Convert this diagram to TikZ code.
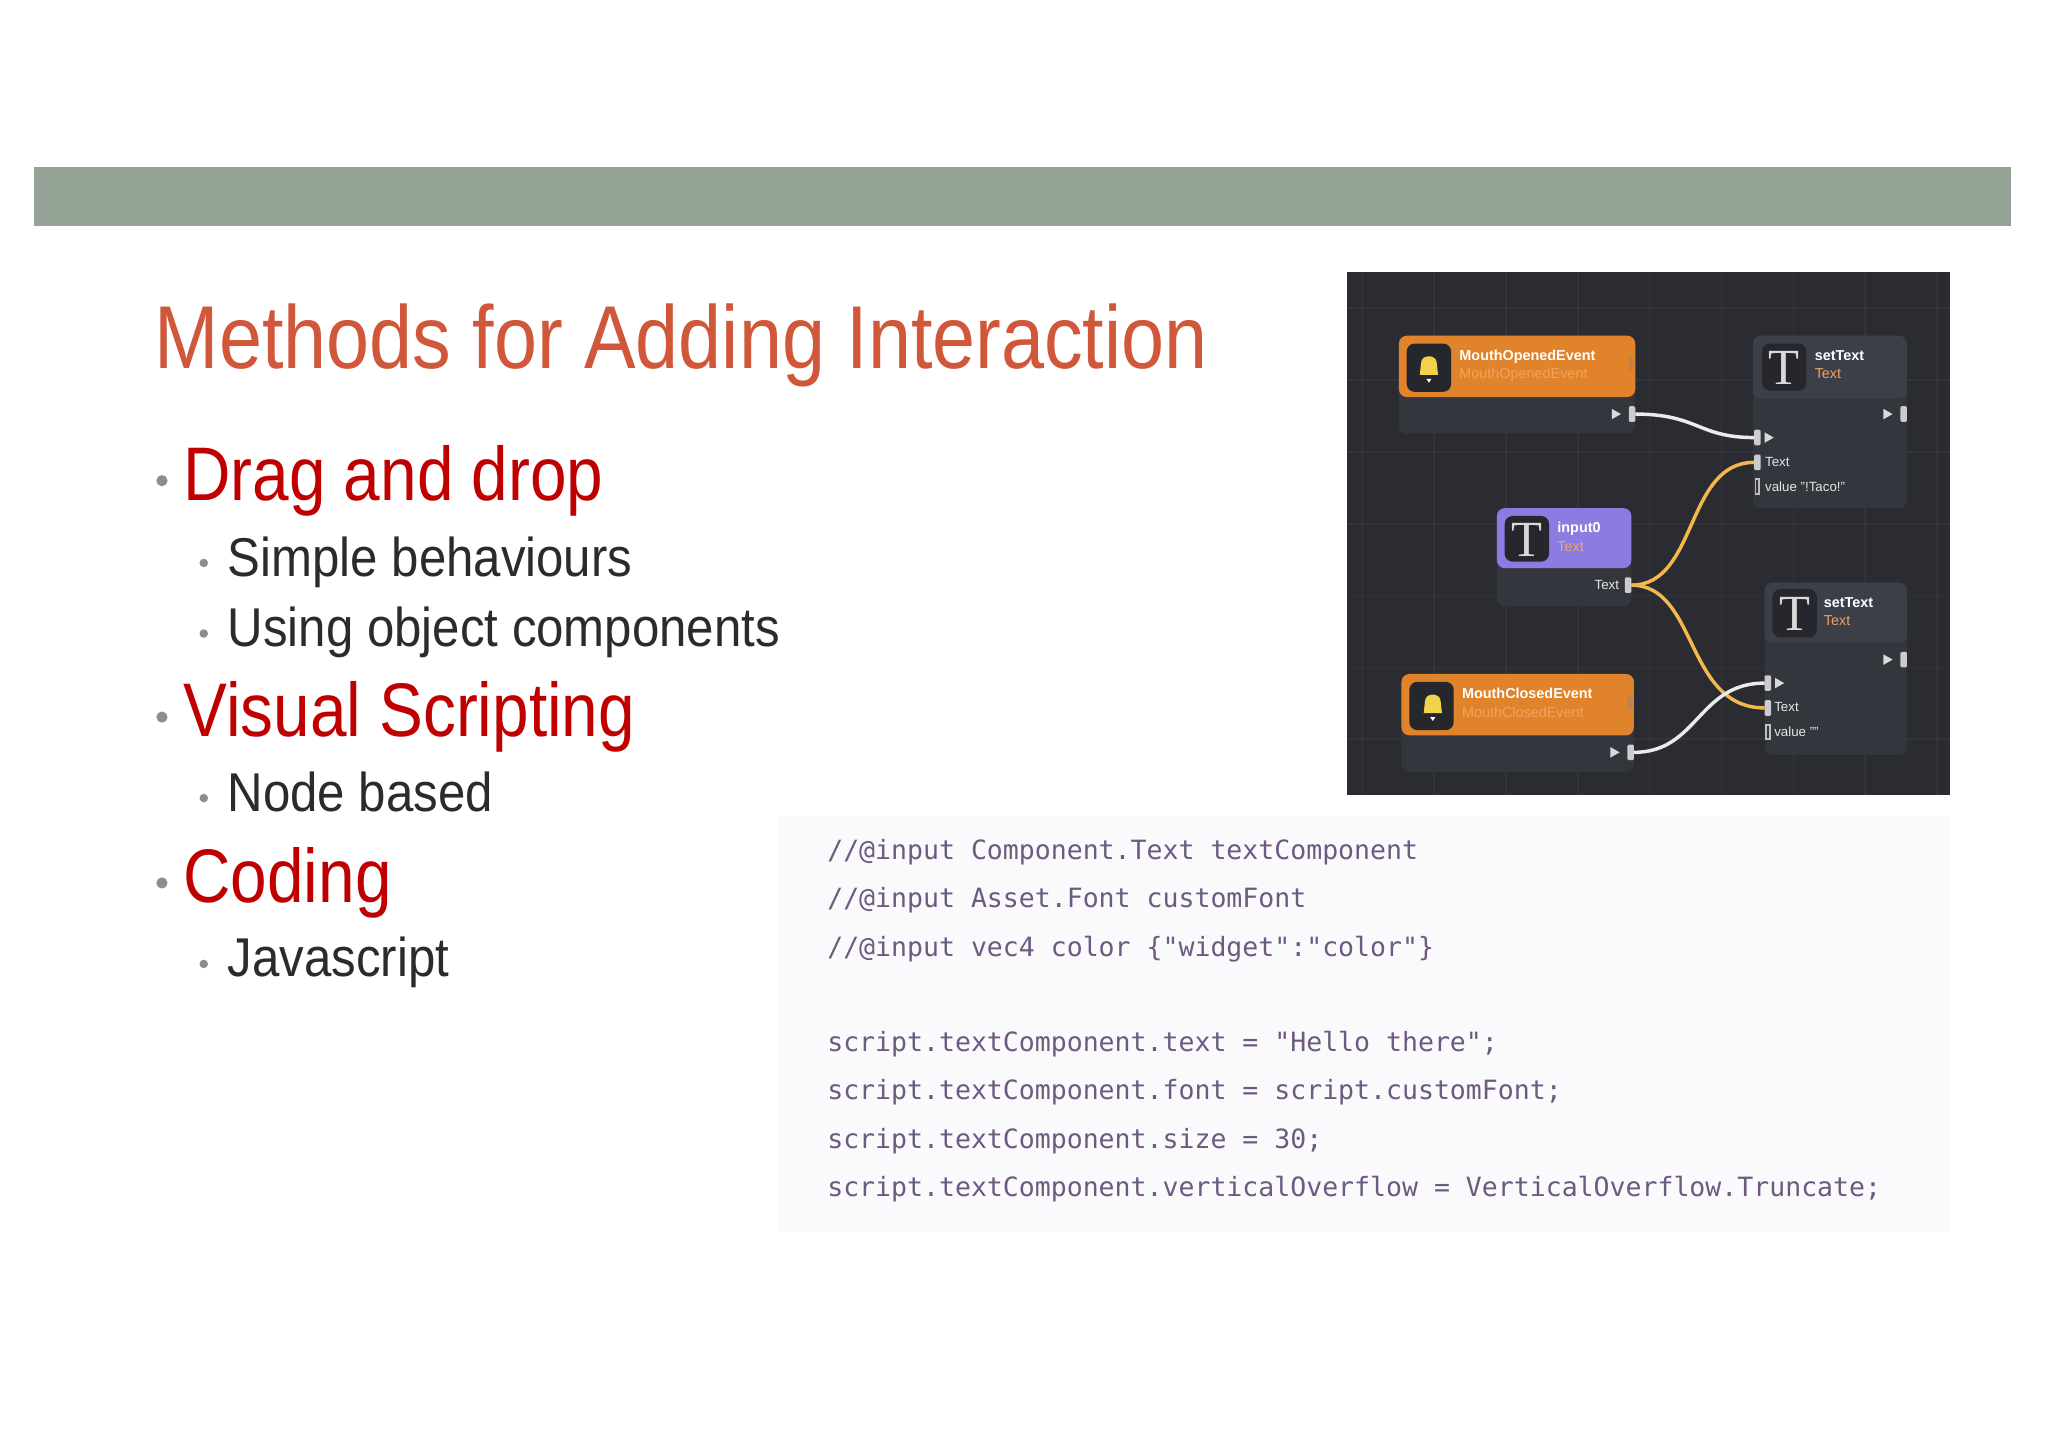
\documentclass[tikz,border=0pt]{standalone}
\usepackage{fontspec}
\setmainfont{Liberation Sans}
\newfontfamily\codefont{DejaVu Sans Mono}
\newfontfamily\tfont{Liberation Serif}
\newfontfamily\titlefont{Liberation Sans}[FakeStretch=0.866]
\newfontfamily\lafont{Liberation Sans}[FakeStretch=0.865]
\newfontfamily\lbfont{Liberation Sans}[FakeStretch=0.9]
\begin{document}
\begin{tikzpicture}[x=0.49pt,y=-0.49pt,
  title/.style={anchor=base west,text=titlec,font=\titlefont\fontsize{33.5}{36}\selectfont,inner sep=0},
  lvl1/.style={anchor=base west,text=redc,font=\lafont\fontsize{28.5}{30}\selectfont,inner sep=0},
  lvl2/.style={anchor=base west,text=darkc,font=\lbfont\fontsize{20.5}{22}\selectfont,inner sep=0},
  dot1/.style={circle,fill=dotc,inner sep=0,minimum size=4.2pt},
  dot2/.style={circle,fill=dotc,inner sep=0,minimum size=3.2pt},
  code/.style={anchor=base west,text=codec,font=\codefont\fontsize{9.95}{11}\selectfont,inner sep=0},
  ntitle/.style={anchor=base west,text=white,font=\bfseries\fontsize{5.4}{6}\selectfont,inner sep=0},
  nsub/.style={anchor=base west,text=subc,font=\fontsize{5.4}{6}\selectfont,inner sep=0},
  plab/.style={anchor=base west,text=white!90!black,font=\fontsize{5}{6}\selectfont,inner sep=0},
  port/.style={fill=white!80!black,rounded corners=0.5pt},
  tri/.style={fill=white!85!black},
  icon/.style={fill=iconc,rounded corners=3pt},
  wirew/.style={white!92!black,line width=1.3pt},
  wirey/.style={yellowc,line width=1.3pt}]
\definecolor{titlec}{HTML}{D0573A}
\definecolor{redc}{HTML}{C00000}
\definecolor{darkc}{HTML}{2B2B2B}
\definecolor{dotc}{HTML}{8A8F8A}
\definecolor{bandc}{HTML}{95A396}
\definecolor{codec}{HTML}{6E5A80}
\definecolor{codebg}{HTML}{FAF9FB}
\definecolor{panel}{HTML}{2A2C31}
\definecolor{bodyc}{HTML}{33363D}
\definecolor{graych}{HTML}{3C3F47}
\definecolor{orangec}{HTML}{E0832A}
\definecolor{purplec}{HTML}{8C7BE0}
\definecolor{iconc}{HTML}{25272C}
\definecolor{subc}{HTML}{F2A35E}
\definecolor{yellowc}{HTML}{F2B84B}
\definecolor{bellc}{HTML}{F0D34A}
\useasboundingbox (0,0) rectangle (1568,1109);
\fill[white] (0,0) rectangle (1568,1109);
\fill[bandc] (26,128) rectangle (1540,173);
\node[title] (t) at (118,282) {Methods for Adding Interaction};
% bullets
\node[dot1] (b1) at (124,368) {}; \node[lvl1] (l1) at (140,383) {Drag and drop};
\node[dot2] (b2) at (156,431) {}; \node[lvl2] (l2) at (174,441) {Simple behaviours};
\node[dot2] (b3) at (156,485) {}; \node[lvl2] (l3) at (174,495) {Using object components};
\node[dot1] (b4) at (124,549) {}; \node[lvl1] (l4) at (140,564) {Visual Scripting};
\node[dot2] (b5) at (156,611) {}; \node[lvl2] (l5) at (174,621) {Node based};
\node[dot1] (b6) at (124,676) {}; \node[lvl1] (l6) at (140,691) {Coding};
\node[dot2] (b7) at (156,738) {}; \node[lvl2] (l7) at (174,748) {Javascript};
% code
\fill[codebg] (595,625) rectangle (1493,943);
\node[code] (c1) at (633,658) {//@input Component.Text textComponent};
\node[code] (c2) at (633,695) {//@input Asset.Font customFont};
\node[code] (c3) at (633,732) {//@input vec4 color \{"widget":"color"\}};
\node[code] (c4) at (633,805) {script.textComponent.text = "Hello there";};
\node[code] (c5) at (633,842) {script.textComponent.font = script.customFont;};
\node[code] (c6) at (633,879) {script.textComponent.size = 30;};
\node[code] (c7) at (633,916) {script.textComponent.verticalOverflow = VerticalOverflow.Truncate;};
% graph panel
\fill[panel] (1031,208) rectangle (1493,609);
\foreach \gx in {1043,1098,1153,1208,1263,1318,1373,1428,1483} \draw[white,opacity=0.04,line width=0.6pt] (\gx,208) -- (\gx,609);
\foreach \gy in {236,291,346,401,456,511,566} \draw[white,opacity=0.04,line width=0.6pt] (1031,\gy) -- (1493,\gy);
% MouthOpenedEvent
\fill[bodyc,rounded corners=3pt] (1071,257) rectangle (1252,332);
\fill[orangec,rounded corners=3pt] (1071,257) -- (1252,257) -- (1252,304) -- (1071,304) -- cycle;
\fill[icon] (1077,263) rectangle (1111,300);
\fill[bellc] (1087,287) -- (1088,278) .. controls (1088,271) and (1100,271) .. (1100,278) -- (1101,287) -- cycle;
\fill[white] (1092,290) -- (1096,290) -- (1094,293) -- cycle;
\node[ntitle] (mo) at (1117,276) {MouthOpenedEvent};
\node[nsub] (mos) at (1117,290) {MouthOpenedEvent};
\fill[subc!80!black] (1247,273) rectangle (1251,284);
\fill[tri] (1234,313) -- (1241,317) -- (1234,321) -- cycle;
\fill[port] (1247,311) rectangle (1252,323);
\coordinate (moOut) at (1252,317);
% setText 1
\fill[bodyc,rounded corners=3pt] (1342,257) rectangle (1460,389);
\fill[graych,rounded corners=3pt] (1342,257) -- (1460,257) -- (1460,305) -- (1342,305) -- cycle;
\fill[icon] (1349,263) rectangle (1383,299);
\node[text=white!85!black,font=\tfont\fontsize{19}{20}\selectfont,inner sep=0] (i1) at (1366,282) {T};
\node[ntitle] (s1) at (1389,276) {setText};
\node[nsub] (s1s) at (1389,290) {Text};
\fill[tri] (1442,313) -- (1449,317) -- (1442,321) -- cycle;
\fill[port] (1455,311) rectangle (1460,323);
\fill[port] (1343,329) rectangle (1348,341);
\fill[tri] (1351,331) -- (1358,335) -- (1351,339) -- cycle;
\coordinate (s1In) at (1343,335);
\fill[port] (1343,348) rectangle (1348,360);
\coordinate (s1Text) at (1343,354);
\node[plab] (s1t) at (1351,357) {Text};
\draw[white!75!black,line width=0.7pt] (1344,367) rectangle (1347,378);
\node[plab] (s1v) at (1351,376) {value "!Taco!"};
% input0
\fill[bodyc,rounded corners=3pt] (1146,389) rectangle (1249,464);
\fill[purplec,rounded corners=3pt] (1146,389) -- (1249,389) -- (1249,435) -- (1146,435) -- cycle;
\fill[icon] (1152,395) rectangle (1186,430);
\node[text=white!85!black,font=\tfont\fontsize{19}{20}\selectfont,inner sep=0] (i2) at (1169,413) {T};
\node[ntitle] (in) at (1192,408) {input0};
\node[nsub] (ins) at (1192,422) {Text};
\node[plab,anchor=base east] (inl) at (1240,451) {Text};
\fill[port] (1244,442) rectangle (1249,454);
\coordinate (inOut) at (1249,448);
% setText 2
\fill[bodyc,rounded corners=3pt] (1351,446) rectangle (1460,578);
\fill[graych,rounded corners=3pt] (1351,446) -- (1460,446) -- (1460,492) -- (1351,492) -- cycle;
\fill[icon] (1357,451) rectangle (1391,488);
\node[text=white!85!black,font=\tfont\fontsize{19}{20}\selectfont,inner sep=0] (i3) at (1374,470) {T};
\node[ntitle] (s2) at (1396,465) {setText};
\node[nsub] (s2s) at (1396,479) {Text};
\fill[tri] (1442,501) -- (1449,505) -- (1442,509) -- cycle;
\fill[port] (1455,499) rectangle (1460,511);
\fill[port] (1351,517) rectangle (1356,529);
\fill[tri] (1359,519) -- (1366,523) -- (1359,527) -- cycle;
\coordinate (s2In) at (1351,523);
\fill[port] (1351,536) rectangle (1356,548);
\coordinate (s2Text) at (1351,542);
\node[plab] (s2t) at (1358,545) {Text};
\draw[white!75!black,line width=0.7pt] (1352,555) rectangle (1355,566);
\node[plab] (s2v) at (1358,564) {value ""};
% MouthClosedEvent
\fill[bodyc,rounded corners=3pt] (1073,516) rectangle (1251,591);
\fill[orangec,rounded corners=3pt] (1073,516) -- (1251,516) -- (1251,563) -- (1073,563) -- cycle;
\fill[icon] (1079,522) rectangle (1113,559);
\fill[bellc] (1090,546) -- (1091,537) .. controls (1091,530) and (1103,530) .. (1103,537) -- (1104,546) -- cycle;
\fill[white] (1095,549) -- (1099,549) -- (1097,552) -- cycle;
\node[ntitle] (mc) at (1119,535) {MouthClosedEvent};
\node[nsub] (mcs) at (1119,549) {MouthClosedEvent};
\fill[subc!80!black] (1246,532) rectangle (1250,543);
\fill[tri] (1233,572) -- (1240,576) -- (1233,580) -- cycle;
\fill[port] (1246,570) rectangle (1251,582);
\coordinate (mcOut) at (1251,576);
% wires
\draw[wirew] (moOut) .. controls (1300,317) and (1300,335) .. (s1In);
\draw[wirey] (inOut) .. controls (1300,448) and (1290,354) .. (s1Text);
\draw[wirey] (inOut) .. controls (1300,448) and (1290,542) .. (s2Text);
\draw[wirew] (mcOut) .. controls (1300,576) and (1300,523) .. (s2In);
\end{tikzpicture}
\end{document}
